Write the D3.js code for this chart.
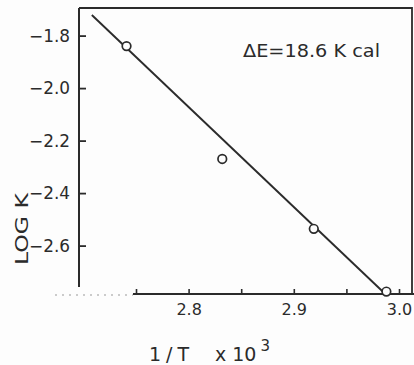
<!DOCTYPE html>
<html>
<head>
<meta charset="utf-8">
<script src="https://cdn.jsdelivr.net/npm/d3@7"></script>
<style>
  html, body { margin: 0; padding: 0; background: #fdfdfd; }
  svg { display: block; }
  text { font-family: "DejaVu Sans", sans-serif; fill: #2b2b2b; }
</style>
</head>
<body>
<svg id="chart" width="414" height="365"></svg>
<script>
// Arrhenius plot: log K against reciprocal temperature (1/T x 10^3)
const invT = [2.741, 2.832, 2.919, 2.988];
const logK = [-1.840, -2.270, -2.536, -2.775];

// least-squares line through the measurements, as drawn
const fitInvT = [2.708, 2.986];
const fitLogK = [-1.7215, -2.7806];

const yTicks = [-1.8, -2.0, -2.2, -2.4, -2.6];
const xTicks = [2.75, 2.8, 2.85, 2.9, 2.95, 3.0];
const xLabelled = [2.8, 2.9, 3.0];

const annotation = "ΔE=18.6 K cal";

const ink = "#2b2b2b";
const svg = d3.select("#chart");

const x = d3.scaleLinear().domain([2.7, 3.0]).range([83.4, 399]);
const y = d3.scaleLinear().domain([-2.8, -1.8]).range([298.1, 35.6]);

const frameL = 79, frameR = 412, frameT = 8, frameB = 294;

// frame: top and right borders
svg.append("path")
  .attr("d", `M${frameL},${frameT}H${frameR}V${frameB}`)
  .attr("fill", "none").attr("stroke", ink).attr("stroke-width", 1.8);

// y axis with inward ticks
const yAxis = d3.axisLeft(y).tickValues(yTicks).tickSize(-7).tickSizeOuter(0)
  .tickPadding(9).tickFormat(d => d3.format(".1f")(d).replace("-", "\u2013 "));
const gy = svg.append("g").attr("transform", `translate(${frameL},0)`).call(yAxis);
gy.select(".domain").remove();
gy.append("line").attr("x1", 0).attr("x2", 0).attr("y1", frameT).attr("y2", 287)
  .attr("stroke", ink).attr("stroke-width", 2);
gy.selectAll(".tick line").attr("stroke", ink).attr("stroke-width", 1.8);
gy.selectAll(".tick text").attr("font-size", 17).attr("fill", ink)
  .attr("textLength", 41).attr("lengthAdjust", "spacingAndGlyphs")
  .style("font-family", "'DejaVu Sans', sans-serif");

// x axis with short inward ticks
const xAxis = d3.axisBottom(x).tickValues(xTicks).tickSize(-5).tickSizeOuter(0)
  .tickPadding(10).tickFormat(d => xLabelled.some(v => Math.abs(v - d) < 1e-9) ? d3.format(".1f")(d) : "");
const gx = svg.append("g").attr("transform", `translate(0,${frameB})`).call(xAxis);
gx.select(".domain").remove();
gx.append("line").attr("x1", 133).attr("x2", 414).attr("y1", 0).attr("y2", 0)
  .attr("stroke", ink).attr("stroke-width", 1.8);
gx.append("line").attr("x1", 55).attr("x2", 133).attr("y1", 1).attr("y2", 1)
  .attr("stroke", "#9a9a9a").attr("stroke-width", 1.2).attr("stroke-dasharray", "2,5");
gx.selectAll(".tick line").attr("stroke", ink).attr("stroke-width", 1.6);
gx.selectAll(".tick text").attr("font-size", 16).attr("fill", ink)
  .style("font-family", "'DejaVu Sans', sans-serif");

// fitted line
const line = d3.line().x(d => x(d[0])).y(d => y(d[1]));
svg.append("path")
  .datum(d3.zip(fitInvT, fitLogK))
  .attr("d", line)
  .attr("fill", "none").attr("stroke", ink).attr("stroke-width", 1.9);

// measured points
svg.append("g").selectAll("circle")
  .data(d3.zip(invT, logK))
  .join("circle")
  .attr("cx", d => x(d[0])).attr("cy", d => y(d[1])).attr("r", 4.3)
  .attr("fill", "#fdfdfd").attr("stroke", ink).attr("stroke-width", 1.7);

// activation energy annotation
svg.append("text").attr("x", 243).attr("y", 57)
  .attr("font-size", 18).attr("textLength", 137).attr("lengthAdjust", "spacingAndGlyphs")
  .text(annotation);

// y axis title
svg.append("text")
  .attr("transform", "translate(28,229) rotate(-90)")
  .attr("text-anchor", "middle").attr("font-size", 17)
  .attr("textLength", 72).attr("lengthAdjust", "spacingAndGlyphs")
  .text("LOG K");

// x axis title
const xt = svg.append("text").attr("y", 361).attr("font-size", 19);
xt.append("tspan").attr("x", 149).attr("textLength", 40).text("1/T");
xt.append("tspan").attr("x", 215).text("x 10");
xt.append("tspan").attr("dx", 4).attr("dy", -10).attr("font-size", 15).text("3");
</script>
</body>
</html>
